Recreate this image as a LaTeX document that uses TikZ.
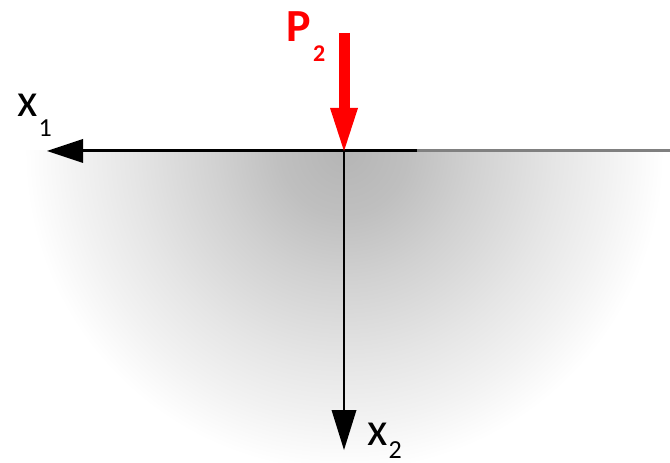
\documentclass[tikz,border=0pt]{standalone}
\usepackage{fontspec}
\setmainfont{Carlito}
\usetikzlibrary{arrows.meta}
\definecolor{loadred}{HTML}{FF0000}
\pgfdeclareradialshading{ground}{\pgfpoint{0bp}{0bp}}{%
  color(0bp)=(black!29); color(5bp)=(black!25); color(10bp)=(black!18);
  color(16.5bp)=(black!10); color(21bp)=(black!5);
  color(25bp)=(white); color(50bp)=(white)}

\begin{document}
\begin{tikzpicture}[
  x=1bp, y=-1bp,
  axis/.style={draw=black, line width=3bp},
  depthaxis/.style={draw=black, line width=2bp},
  load/.style={draw=loadred, line width=11bp},
  label/.style={anchor=base west, inner sep=0pt, font=\fontsize{47bp}{47bp}\selectfont}
]
\useasboundingbox (0,0) rectangle (670,463);

% Half space under the surface, shaded from the load point.
\coordinate (O) at (344,151);
\begin{scope}
  \clip (0,151) rectangle (670,463);
  \shade[shading=ground] (O) circle[radius=320bp];
\end{scope}

% Surface and axes.
\coordinate (split) at (417,151);
\coordinate (right) at (670,151);
\coordinate (x1end) at (47,151);
\coordinate (x2end) at (344,450);
\coordinate (loadtop) at (344,33);
\draw[axis, draw=black!50] (split) -- (right);
\draw[axis, -{Triangle[length=36bp, width=24bp, line width=0pt]}] (split) -- (x1end);
\draw[depthaxis, -{Triangle[length=40bp, width=25bp, line width=0pt]}] (O) -- (x2end);

% Point load.
\draw[load, -{Triangle[length=43bp, width=28bp, line width=0pt]}] (loadtop) -- (O);

\node[label] (x1) at (17,117)
  {x\kern1bp\raisebox{-20bp}{\fontsize{26bp}{26bp}\selectfont 1}};
\node[label] (x2) at (367,445)
  {x\kern1bp\raisebox{-13bp}{\fontsize{26bp}{26bp}\selectfont 2}};
\node[label, text=loadred, font=\fontsize{46bp}{46bp}\selectfont\bfseries] (P2) at (286.5,42)
  {P\kern2bp\raisebox{-20bp}{\fontsize{24bp}{24bp}\selectfont\bfseries 2}};
\end{tikzpicture}
\end{document}
